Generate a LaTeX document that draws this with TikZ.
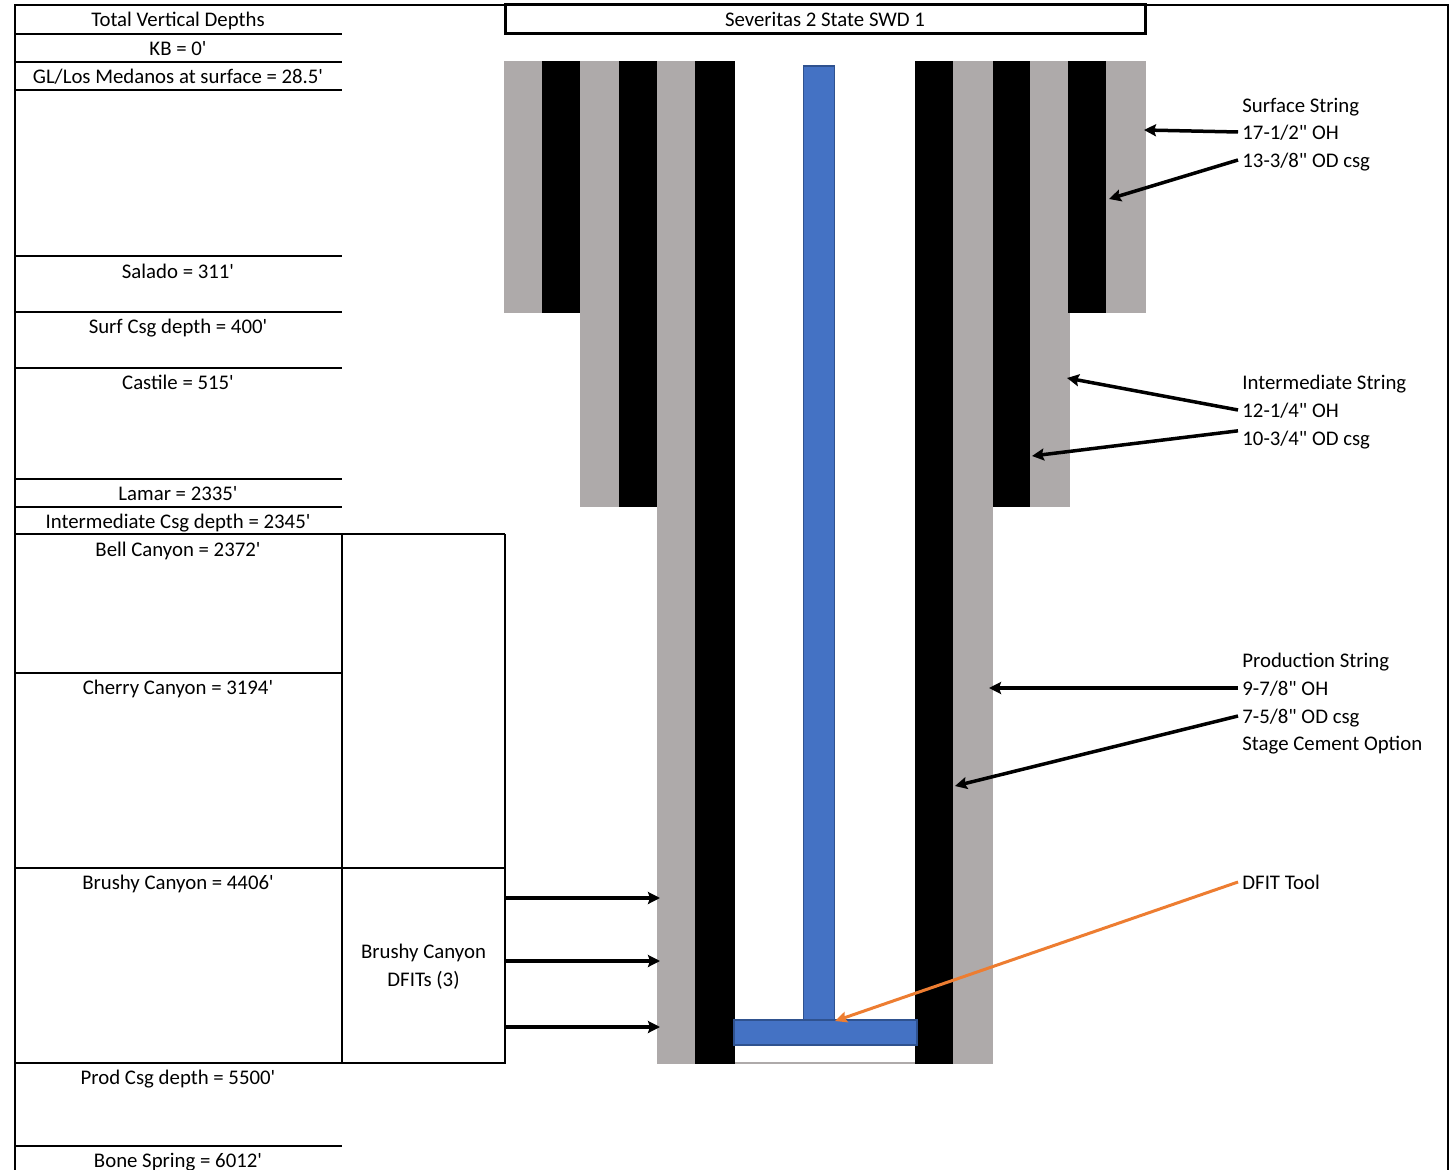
\documentclass[tikz,border=0pt]{standalone}
\usepackage{fontspec}
\usetikzlibrary{arrows.meta}
\setmainfont{Carlito}[Ligatures=TeXOff]
\newlength{\du}
\setlength{\du}{0.5pt}
\definecolor{groutcolor}{HTML}{AEAAAA}
\definecolor{tubecolor}{HTML}{4472C4}
\definecolor{tubeedge}{HTML}{2F528F}
\definecolor{toolcolor}{HTML}{ED7D31}
\tikzset{
  tvdline/.style={line width=2\du,black},
  cell/.style={draw=black,line width=2\du,inner sep=0pt},
  tvdtext/.style={inner sep=0pt,align=center,font=\fontsize{10.4}{14}\selectfont,text height=17\du,text depth=2\du},
  strlabel/.style={inner sep=4\du,anchor=west,font=\fontsize{10.4}{14}\selectfont,text height=17\du,text depth=2\du},
  grout/.style={fill=groutcolor},
  casing/.style={fill=black},
  tubing/.style={fill=tubecolor,draw=tubeedge,line width=1.5\du},
  pointer/.style={-{Stealth[length=6pt,width=6pt,inset=1pt]},line width=3.5\du,black},
  toolpointer/.style={-{Stealth[length=6pt,width=5.5pt,inset=1pt]},line width=3\du,toolcolor},
}
\begin{document}
\begin{tikzpicture}
\pgftransformxscale{1.000000}
\pgftransformyscale{-1.000000}
\useasboundingbox (0\du,0\du) rectangle (1450\du,1170\du);
% outer frame
\draw[tvdline] (15\du,1170\du)--(15\du,5\du)--(1448\du,5\du)--(1448\du,1170\du);
% title
\node[cell,line width=3\du,minimum width=640\du,minimum height=29\du] (titlebox) at (825\du,19.5\du){};
\node[tvdtext] (titletext) at (825\du,19\du){Severitas 2 State SWD 1};
% depth table
\draw[tvdline] (15\du,34\du)--(342\du,34\du);
\draw[tvdline] (15\du,62\du)--(342\du,62\du);
\draw[tvdline] (15\du,90\du)--(342\du,90\du);
\draw[tvdline] (15\du,256\du)--(342\du,256\du);
\draw[tvdline] (15\du,312\du)--(342\du,312\du);
\draw[tvdline] (15\du,368\du)--(342\du,368\du);
\draw[tvdline] (15\du,479\du)--(342\du,479\du);
\draw[tvdline] (15\du,507\du)--(342\du,507\du);
\draw[tvdline] (15\du,534\du)--(505\du,534\du);
\draw[tvdline] (15\du,673\du)--(342\du,673\du);
\draw[tvdline] (15\du,868\du)--(505\du,868\du);
\draw[tvdline] (15\du,1063\du)--(505\du,1063\du);
\draw[tvdline] (15\du,1146\du)--(342\du,1146\du);
\draw[tvdline] (342\du,534\du)--(342\du,1063\du);
\draw[tvdline] (505\du,534\du)--(505\du,868\du);
\node[tvdtext] (tvdhead) at (178\du,19\du){Total Vertical Depths};
\node[tvdtext] (kb) at (178\du,48\du){KB = 0'};
\node[tvdtext] (medanos) at (178\du,76\du){GL/Los Medanos at surface = 28.5'};
\node[tvdtext] (salado) at (178\du,271\du){Salado = 311'};
\node[tvdtext] (surfdepth) at (178\du,326\du){Surf Csg depth = 400'};
\node[tvdtext] (castile) at (178\du,382\du){Castile = 515'};
\node[tvdtext] (lamar) at (178\du,493\du){Lamar = 2335'};
\node[tvdtext] (intdepth) at (178\du,521\du){Intermediate Csg depth = 2345'};
\node[tvdtext] (bell) at (178\du,549\du){Bell Canyon = 2372'};
\node[tvdtext] (cherry) at (178\du,687\du){Cherry Canyon = 3194'};
\node[tvdtext] (brushy) at (178\du,882\du){Brushy Canyon = 4406'};
\node[tvdtext] (proddepth) at (178\du,1077\du){Prod Csg depth = 5500'};
\node[tvdtext] (bone) at (178\du,1160\du){Bone Spring = 6012'};
\node[cell,minimum width=163\du,minimum height=195\du] (dfitbox) at (423.5\du,965.5\du){};
\node[tvdtext] (dfita) at (423.5\du,951\du){Brushy Canyon};
\node[tvdtext] (dfitb) at (423.5\du,979\du){DFITs (3)};
% surface string
\fill[grout] (504\du,61\du) rectangle (542\du,313\du);
\fill[casing] (542\du,61\du) rectangle (580\du,313\du);
\fill[grout] (1106\du,61\du) rectangle (1146\du,313\du);
% intermediate string
\fill[grout] (580\du,61\du) rectangle (619\du,507\du);
\fill[casing] (619\du,61\du) rectangle (657\du,507\du);
\fill[grout] (1030\du,61\du) rectangle (1070\du,507\du);
\fill[casing] (992\du,61\du) rectangle (1030\du,507\du);
\fill[casing] (1068\du,61\du) rectangle (1106\du,313\du);
% production string
\fill[grout] (657\du,61\du) rectangle (695\du,1064\du);
\fill[casing] (695\du,61\du) rectangle (735\du,1064\du);
\fill[casing] (915\du,61\du) rectangle (953\du,1064\du);
\fill[grout] (953\du,61\du) rectangle (993\du,1064\du);
\fill[groutcolor] (735\du,1062\du) rectangle (915\du,1064\du);
% tubing and tool
\draw[tubing] (803.5\du,66\du) rectangle (834.5\du,1045\du);
\draw[tubing] (734\du,1020\du) rectangle (917\du,1045\du);
% string labels
\node[strlabel] (surfname) at (1238\du,105\du){Surface String};
\node[strlabel] (surfoh) at (1238\du,132\du){17-1/2" OH};
\node[strlabel] (surfcsg) at (1238\du,160\du){13-3/8" OD csg};
\node[strlabel] (intname) at (1238\du,382\du){Intermediate String};
\node[strlabel] (intoh) at (1238\du,410\du){12-1/4" OH};
\node[strlabel] (intcsg) at (1238\du,438\du){10-3/4" OD csg};
\node[strlabel] (prodname) at (1238\du,660\du){Production String};
\node[strlabel] (prodoh) at (1238\du,688\du){9-7/8" OH};
\node[strlabel] (prodcsg) at (1238\du,716\du){7-5/8" OD csg};
\node[strlabel] (prodstage) at (1238\du,743\du){Stage Cement Option};
\node[strlabel] (dfittool) at (1238\du,882\du){DFIT Tool};
% arrow ends
\coordinate (surfohend) at (1144\du,130\du);
\coordinate (surfcsgend) at (1109\du,199\du);
\coordinate (intohend) at (1067\du,378\du);
\coordinate (intcsgend) at (1032\du,456\du);
\coordinate (prodohend) at (989\du,688\du);
\coordinate (prodcsgend) at (955\du,786\du);
\coordinate (toolend) at (835\du,1021\du);
\coordinate (dfitaend) at (660\du,898\du);
\coordinate (dfitbend) at (660\du,961\du);
\coordinate (dfitcend) at (660\du,1027\du);
\draw[pointer] (surfoh.west)--(surfohend);
\draw[pointer] (surfcsg.west)--(surfcsgend);
\draw[pointer] (intoh.west)--(intohend);
\draw[pointer] (intcsg.174)--(intcsgend);
\draw[pointer] (prodoh.west)--(prodohend);
\draw[pointer] (prodcsg.west)--(prodcsgend);
\draw[toolpointer] (dfittool.west)--(toolend);
\draw[pointer] (dfitbox.east |- dfitaend)--(dfitaend);
\draw[pointer] (dfitbox.east |- dfitbend)--(dfitbend);
\draw[pointer] (dfitbox.east |- dfitcend)--(dfitcend);
\end{tikzpicture}
\end{document}
